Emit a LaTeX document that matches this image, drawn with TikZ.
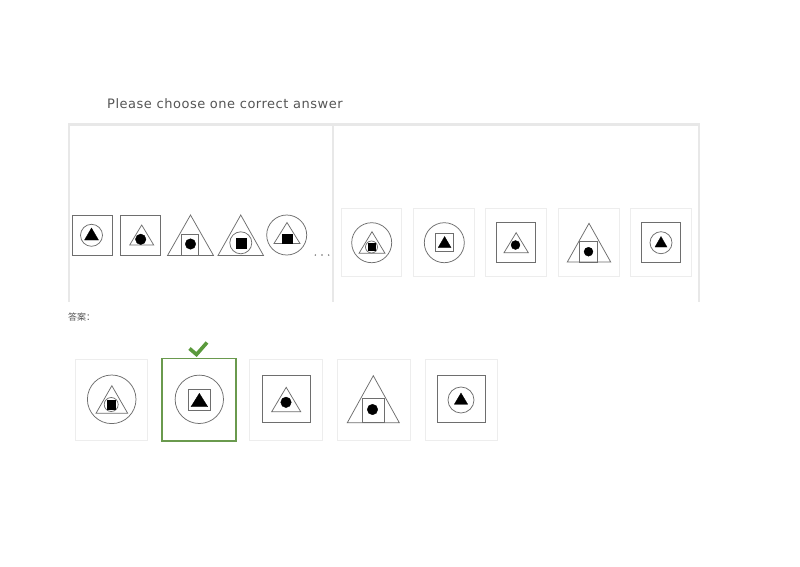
\documentclass[tikz,border=0pt]{standalone}
\usepackage{fontspec}
\setmainfont{DejaVu Sans}
\newfontfamily\cjk{Noto Sans CJK SC}
\newfontfamily\titlefont[LetterSpace=4]{DejaVu Sans}
\definecolor{figgray}{HTML}{6E6E6E}
\definecolor{framegray}{HTML}{E8E8E8}
\definecolor{boxgray}{HTML}{EDEDED}
\definecolor{okgreen}{HTML}{6A9A4E}
\definecolor{checkgreen}{HTML}{5A9A3C}
\definecolor{titlegray}{HTML}{555555}
\tikzset{
  fig/.style={draw=figgray, line width=0.75pt},
  solidfig/.style={fill=black, draw=black, line width=0.3pt},
  framel/.style={draw=framegray, line width=2pt},
  optbox/.style={draw=boxgray, line width=0.8pt},
  ansbox/.style={draw=boxgray, line width=0.9pt},
  okbox/.style={draw=okgreen, line width=1.6pt},
}
\newcommand\mytri[4]{\draw[fig] (#1,#4) -- (#2,#4) -- ({(#1+#2)/2},#3) -- cycle;}
\newcommand\mysq[4]{\draw[fig] (#1,#2) rectangle (#3,#4);}
\newcommand\mycirc[3]{\draw[fig] (#1,#2) circle[radius=#3];}
\newcommand\ftri[4]{\filldraw[solidfig] (#1,#4) -- (#2,#4) -- ({(#1+#2)/2},#3) -- cycle;}
\newcommand\fsq[4]{\filldraw[solidfig] (#1,#2) rectangle (#3,#4);}
\newcommand\fcirc[3]{\filldraw[solidfig] (#1,#2) circle[radius=#3];}
\begin{document}
\begin{tikzpicture}[x=1pt,y=-1pt]
\useasboundingbox (0,0) rectangle (800,566);
\fill[white] (0,0) rectangle (800,566);
% title
\node[anchor=base west, inner sep=0pt, text=titlegray, font=\titlefont\fontsize{13}{15}\selectfont] (title) at (107,108) {Please choose one correct answer};
% frame
\draw[draw=framegray, line width=3pt] (68,124.5) -- (700,124.5);
\draw[framel] (69,124) -- (69,302);
\draw[framel] (333,124) -- (333,302);
\draw[framel] (699,124) -- (699,302);
% sequence
\mysq{72}{215}{112}{255} \mycirc{91.5}{235.3}{11} \ftri{84.5}{98.5}{228}{240}
\mysq{120.5}{215}{160.3}{255} \mytri{129.7}{153.7}{225}{245} \fcirc{140.7}{239.3}{5.3}
\mytri{167.5}{213.5}{215}{255.5} \mysq{181.7}{234.3}{198.7}{255.5} \fcirc{190.5}{244}{5.3}
\mytri{218}{263.5}{215}{255.5} \mycirc{240.8}{242.8}{11} \fsq{235.8}{238}{245.8}{248}
\mycirc{286.7}{235}{20} \mytri{274}{300}{222.5}{243.5} \fsq{282.5}{234}{292.5}{243.5}
\foreach \dx in {315.3,322,328.7} \fill[figgray] (\dx,255) circle[radius=0.8];
% options
\draw[optbox] (341.7,208.3) rectangle (401.7,276.7);
\draw[optbox] (413.3,208.3) rectangle (474,276.7);
\draw[optbox] (485.7,208.3) rectangle (546,276.7);
\draw[optbox] (558.3,208.3) rectangle (619,276.7);
\draw[optbox] (630.7,208.3) rectangle (691.7,276.7);
\mycirc{371.7}{242.7}{20} \mytri{359}{385}{231.7}{253.3} \mycirc{371.5}{247}{6} \fsq{368}{243.5}{375}{250.5}
\mycirc{444.3}{242.7}{20} \mysq{435.7}{233.3}{453.3}{251.7} \ftri{438.2}{451}{236.5}{247.5}
\mysq{496.7}{222.7}{535.7}{262.3} \mytri{504}{528.3}{232.7}{252.7} \fcirc{515.5}{245}{4.5}
\mytri{567.3}{610.7}{223.3}{262} \mysq{579}{241.7}{597.3}{262} \fcirc{588.5}{251.7}{4.5}
\mysq{641.7}{222.7}{680.7}{262.3} \mycirc{661}{242.7}{11} \ftri{655}{667}{236.5}{247}
% answer label
\node[anchor=base west, inner sep=0pt, text=titlegray, font=\cjk\fontsize{9}{10}\selectfont] (anslabel) at (68,320) {答案：};
% answer boxes
\draw[ansbox] (75,359) rectangle (147.7,440.7);
\draw[okbox] (161.7,358.3) rectangle (235.7,441);
\draw[ansbox] (249.3,359.3) rectangle (322.7,440.7);
\draw[ansbox] (337.3,359.3) rectangle (410,440.7);
\draw[ansbox] (425,359.3) rectangle (497.3,440.7);
\mycirc{111.7}{399.3}{24.3} \mytri{96}{127.7}{385.7}{413.3} \mycirc{111.2}{404.5}{7} \fsq{107}{400.3}{115.4}{408.7}
\mycirc{199.3}{399.3}{24.2} \mysq{188.3}{389.3}{210}{410.7} \ftri{191}{207.7}{393.3}{406.7}
\mysq{262.3}{375}{310}{422.3} \mytri{271.7}{300.7}{387.3}{411.7} \fcirc{286}{402.3}{5.3}
\mytri{347.3}{399.3}{375.7}{422.7} \mysq{362}{398.3}{384}{422.7} \fcirc{372.5}{409.5}{5.3}
\mysq{437.3}{375}{485}{422.3} \mycirc{461}{400}{13} \ftri{454.3}{467.7}{393}{404.3}
% check mark
\draw[checkgreen, line width=3.6pt, line join=miter] (189.5,348.5) -- (196.5,354.5) -- (207,342.5);
\end{tikzpicture}
\end{document}
